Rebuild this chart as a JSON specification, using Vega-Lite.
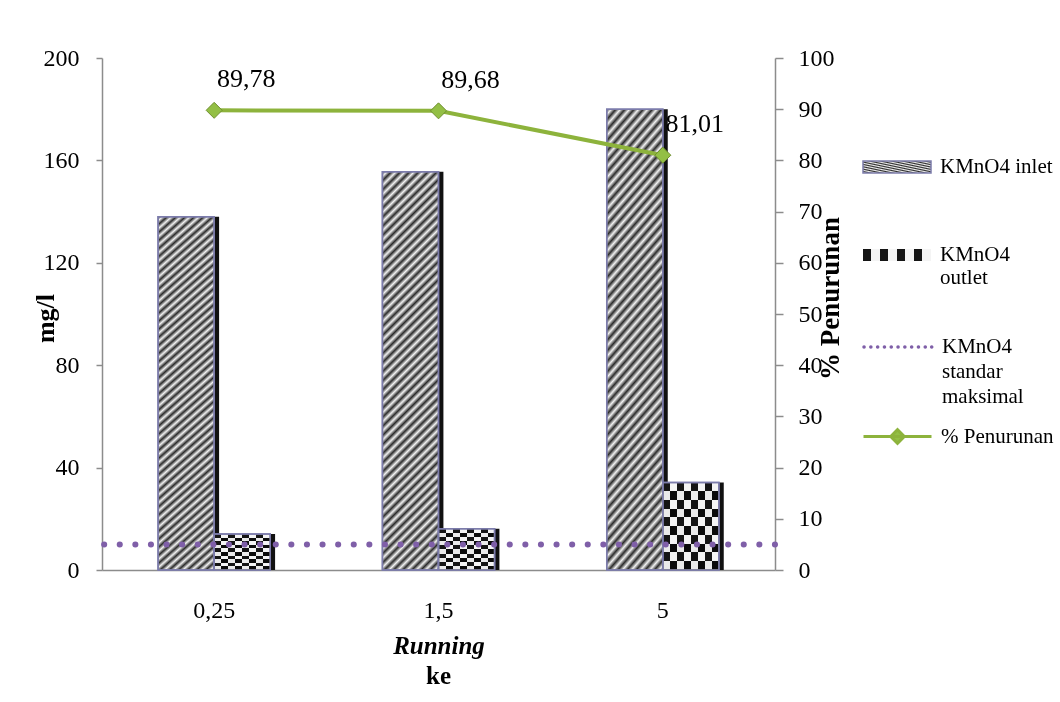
{
  "$schema": "https://vega.github.io/schema/vega-lite/v6.json",
  "width": 673,
  "height": 512,
  "autosize": {"type": "none"},
  "padding": {"left": 102, "top": 58, "right": 285, "bottom": 132},
  "background": "white",
  "config": {
    "font": "Liberation Serif",
    "view": {"stroke": null},
    "locale": {"number": {"decimal": ",", "thousands": ".", "grouping": [3], "currency": ["", ""]}},
    "axis": {"labelFont": "Liberation Serif", "titleFont": "Liberation Serif", "labelColor": "#000", "titleColor": "#000", "domainColor": "#8c8c8c", "tickColor": "#8c8c8c", "domainWidth": 1.5, "tickWidth": 1.5, "grid": false},
    "legend": {"labelFont": "Liberation Serif", "labelFontSize": 21, "labelColor": "#000", "labelLimit": 0}
  },
  "datasets": {
    "bars": [
      {"run": "0,25", "series": "KMnO4 inlet", "value": 138},
      {"run": "0,25", "series": "KMnO4 outlet", "value": 14.1},
      {"run": "1,5", "series": "KMnO4 inlet", "value": 155.6},
      {"run": "1,5", "series": "KMnO4 outlet", "value": 16.1},
      {"run": "5", "series": "KMnO4 inlet", "value": 180},
      {"run": "5", "series": "KMnO4 outlet", "value": 34.2}
    ],
    "pct": [
      {"run": "0,25", "series": "% Penurunan", "pct": 89.78},
      {"run": "1,5", "series": "% Penurunan", "pct": 89.68},
      {"run": "5", "series": "% Penurunan", "pct": 81.01}
    ],
    "std": [
      {"label": "KMnO4 standar maksimal", "value": 10}
    ]
  },
  "title": {"text": "ke", "orient": "bottom", "fontSize": 25, "fontWeight": "bold", "font": "Liberation Serif", "color": "#000", "anchor": "middle", "offset": 6},
  "layer": [
    {
      "data": {"name": "bars"},
      "resolve": {"scale": {"xOffset": "independent"}, "axis": {}, "legend": {}},
      "layer": [
        {
          "mark": {"type": "bar", "color": "#111"},
          "encoding": {
            "x": {"field": "run", "type": "nominal", "sort": ["0,25", "1,5", "5"], "scale": {"paddingInner": 0.5, "paddingOuter": 0.25},
              "axis": {"title": "Running", "titleFontStyle": "italic", "titleFontWeight": "bold", "titleFontSize": 25, "titleY": 75, "titleBaseline": "middle", "labelFontSize": 24, "labelPadding": 28, "ticks": false, "labelAngle": 0}},
            "xOffset": {"field": "series", "type": "nominal", "scale": {"domain": ["KMnO4 inlet", "KMnO4 outlet"], "range": [5, 117], "paddingInner": 0, "paddingOuter": 0}},
            "y": {"field": "value", "type": "quantitative", "scale": {"domain": [0, 200], "nice": false},
              "axis": {"title": "mg/l", "titleFontSize": 26, "titleFontWeight": "bold", "titleX": -57, "titleY": 260, "titleAngle": 270, "titleAlign": "center", "titleBaseline": "middle", "values": [0, 40, 80, 120, 160, 200], "labelFontSize": 24, "labelPadding": 17, "tickSize": 6}}
          }
        },
        {
          "transform": [{"filter": "datum.series === 'KMnO4 inlet'"}],
          "mark": {"type": "bar", "strokeWidth": 1.5, "fill": {"gradient": "linear", "x1": 0, "y1": 0, "x2": 0.157, "y2": 1.12, "stops": [
            {"offset": 0, "color": "#2b2b2b"}, {"offset": 0.01, "color": "#f2f2f2"}, {"offset": 0.02, "color": "#2b2b2b"}, {"offset": 0.03, "color": "#f2f2f2"}, {"offset": 0.04, "color": "#2b2b2b"}, {"offset": 0.05, "color": "#f2f2f2"}, {"offset": 0.06, "color": "#2b2b2b"}, {"offset": 0.07, "color": "#f2f2f2"}, {"offset": 0.08, "color": "#2b2b2b"}, {"offset": 0.09, "color": "#f2f2f2"},
            {"offset": 0.10, "color": "#2b2b2b"}, {"offset": 0.11, "color": "#f2f2f2"}, {"offset": 0.12, "color": "#2b2b2b"}, {"offset": 0.13, "color": "#f2f2f2"}, {"offset": 0.14, "color": "#2b2b2b"}, {"offset": 0.15, "color": "#f2f2f2"}, {"offset": 0.16, "color": "#2b2b2b"}, {"offset": 0.17, "color": "#f2f2f2"}, {"offset": 0.18, "color": "#2b2b2b"}, {"offset": 0.19, "color": "#f2f2f2"},
            {"offset": 0.20, "color": "#2b2b2b"}, {"offset": 0.21, "color": "#f2f2f2"}, {"offset": 0.22, "color": "#2b2b2b"}, {"offset": 0.23, "color": "#f2f2f2"}, {"offset": 0.24, "color": "#2b2b2b"}, {"offset": 0.25, "color": "#f2f2f2"}, {"offset": 0.26, "color": "#2b2b2b"}, {"offset": 0.27, "color": "#f2f2f2"}, {"offset": 0.28, "color": "#2b2b2b"}, {"offset": 0.29, "color": "#f2f2f2"},
            {"offset": 0.30, "color": "#2b2b2b"}, {"offset": 0.31, "color": "#f2f2f2"}, {"offset": 0.32, "color": "#2b2b2b"}, {"offset": 0.33, "color": "#f2f2f2"}, {"offset": 0.34, "color": "#2b2b2b"}, {"offset": 0.35, "color": "#f2f2f2"}, {"offset": 0.36, "color": "#2b2b2b"}, {"offset": 0.37, "color": "#f2f2f2"}, {"offset": 0.38, "color": "#2b2b2b"}, {"offset": 0.39, "color": "#f2f2f2"},
            {"offset": 0.40, "color": "#2b2b2b"}, {"offset": 0.41, "color": "#f2f2f2"}, {"offset": 0.42, "color": "#2b2b2b"}, {"offset": 0.43, "color": "#f2f2f2"}, {"offset": 0.44, "color": "#2b2b2b"}, {"offset": 0.45, "color": "#f2f2f2"}, {"offset": 0.46, "color": "#2b2b2b"}, {"offset": 0.47, "color": "#f2f2f2"}, {"offset": 0.48, "color": "#2b2b2b"}, {"offset": 0.49, "color": "#f2f2f2"},
            {"offset": 0.50, "color": "#2b2b2b"}, {"offset": 0.51, "color": "#f2f2f2"}, {"offset": 0.52, "color": "#2b2b2b"}, {"offset": 0.53, "color": "#f2f2f2"}, {"offset": 0.54, "color": "#2b2b2b"}, {"offset": 0.55, "color": "#f2f2f2"}, {"offset": 0.56, "color": "#2b2b2b"}, {"offset": 0.57, "color": "#f2f2f2"}, {"offset": 0.58, "color": "#2b2b2b"}, {"offset": 0.59, "color": "#f2f2f2"},
            {"offset": 0.60, "color": "#2b2b2b"}, {"offset": 0.61, "color": "#f2f2f2"}, {"offset": 0.62, "color": "#2b2b2b"}, {"offset": 0.63, "color": "#f2f2f2"}, {"offset": 0.64, "color": "#2b2b2b"}, {"offset": 0.65, "color": "#f2f2f2"}, {"offset": 0.66, "color": "#2b2b2b"}, {"offset": 0.67, "color": "#f2f2f2"}, {"offset": 0.68, "color": "#2b2b2b"}, {"offset": 0.69, "color": "#f2f2f2"},
            {"offset": 0.70, "color": "#2b2b2b"}, {"offset": 0.71, "color": "#f2f2f2"}, {"offset": 0.72, "color": "#2b2b2b"}, {"offset": 0.73, "color": "#f2f2f2"}, {"offset": 0.74, "color": "#2b2b2b"}, {"offset": 0.75, "color": "#f2f2f2"}, {"offset": 0.76, "color": "#2b2b2b"}, {"offset": 0.77, "color": "#f2f2f2"}, {"offset": 0.78, "color": "#2b2b2b"}, {"offset": 0.79, "color": "#f2f2f2"},
            {"offset": 0.80, "color": "#2b2b2b"}, {"offset": 0.81, "color": "#f2f2f2"}, {"offset": 0.82, "color": "#2b2b2b"}, {"offset": 0.83, "color": "#f2f2f2"}, {"offset": 0.84, "color": "#2b2b2b"}, {"offset": 0.85, "color": "#f2f2f2"}, {"offset": 0.86, "color": "#2b2b2b"}, {"offset": 0.87, "color": "#f2f2f2"}, {"offset": 0.88, "color": "#2b2b2b"}, {"offset": 0.89, "color": "#f2f2f2"},
            {"offset": 0.90, "color": "#2b2b2b"}, {"offset": 0.91, "color": "#f2f2f2"}, {"offset": 0.92, "color": "#2b2b2b"}, {"offset": 0.93, "color": "#f2f2f2"}, {"offset": 0.94, "color": "#2b2b2b"}, {"offset": 0.95, "color": "#f2f2f2"}, {"offset": 0.96, "color": "#2b2b2b"}, {"offset": 0.97, "color": "#f2f2f2"}, {"offset": 0.98, "color": "#2b2b2b"}, {"offset": 0.99, "color": "#f2f2f2"},
            {"offset": 1, "color": "#2b2b2b"}
          ]}},
          "encoding": {
            "x": {"field": "run", "type": "nominal", "sort": ["0,25", "1,5", "5"]},
            "xOffset": {"field": "series", "type": "nominal", "scale": {"domain": ["KMnO4 inlet", "KMnO4 outlet"]}},
            "y": {"field": "value", "type": "quantitative"},
            "stroke": {"field": "series", "type": "nominal", "scale": {"range": ["#7c7cab"]},
              "legend": {"orient": "none", "legendX": 760, "legendY": 74, "title": null, "symbolType": "M-1,-0.18H1V0.18H-1Z", "symbolSize": 4624, "symbolStrokeWidth": 1.5, "labelOffset": 8}}
          }
        },
        {
          "transform": [{"filter": "datum.series === 'KMnO4 outlet'"}],
          "mark": {"type": "bar", "stroke": "#7c7cab", "strokeWidth": 1.5, "fill": {"gradient": "linear", "x1": 0, "y1": 0, "x2": 1, "y2": 0, "stops": [
            {"offset": 0, "color": "#151515"}, {"offset": 0.125, "color": "#151515"}, {"offset": 0.125, "color": "#f4f4f4"}, {"offset": 0.25, "color": "#f4f4f4"},
            {"offset": 0.25, "color": "#151515"}, {"offset": 0.375, "color": "#151515"}, {"offset": 0.375, "color": "#f4f4f4"}, {"offset": 0.5, "color": "#f4f4f4"},
            {"offset": 0.5, "color": "#151515"}, {"offset": 0.625, "color": "#151515"}, {"offset": 0.625, "color": "#f4f4f4"}, {"offset": 0.75, "color": "#f4f4f4"},
            {"offset": 0.75, "color": "#151515"}, {"offset": 0.875, "color": "#151515"}, {"offset": 0.875, "color": "#f4f4f4"}, {"offset": 1, "color": "#f4f4f4"}
          ]}},
          "encoding": {
            "x": {"field": "run", "type": "nominal", "sort": ["0,25", "1,5", "5"]},
            "xOffset": {"field": "series", "type": "nominal", "scale": {"domain": ["KMnO4 inlet", "KMnO4 outlet"]}},
            "y": {"field": "value", "type": "quantitative"},
            "opacity": {"field": "series", "type": "ordinal", "scale": {"range": [1, 1]},
              "legend": {"orient": "none", "legendX": 760, "legendY": 162, "title": null, "symbolType": "M-1,-0.18H1V0.18H-1Z", "symbolSize": 4624, "symbolStrokeColor": "#7c7cab", "symbolStrokeWidth": 1.5, "labelOffset": 8,
                "labelExpr": "['KMnO4', 'outlet']",
                "encode": {
                  "symbols": {"update": {"stroke": {"value": "#7c7cab"}, "strokeWidth": {"value": 1.5}}},
                  "labels": {"update": {"lineHeight": {"value": 25}}}
                }}}
          }
        },
        {
          "transform": [{"filter": "datum.series === 'KMnO4 outlet'"}],
          "mark": {"type": "bar", "blend": "difference", "fill": {"gradient": "linear", "x1": 0, "y1": 0, "x2": 0, "y2": 1, "stops": [
            {"offset": 0, "color": "#000"}, {"offset": 0.1, "color": "#000"}, {"offset": 0.1, "color": "#fff"}, {"offset": 0.2, "color": "#fff"},
            {"offset": 0.2, "color": "#000"}, {"offset": 0.3, "color": "#000"}, {"offset": 0.3, "color": "#fff"}, {"offset": 0.4, "color": "#fff"},
            {"offset": 0.4, "color": "#000"}, {"offset": 0.5, "color": "#000"}, {"offset": 0.5, "color": "#fff"}, {"offset": 0.6, "color": "#fff"},
            {"offset": 0.6, "color": "#000"}, {"offset": 0.7, "color": "#000"}, {"offset": 0.7, "color": "#fff"}, {"offset": 0.8, "color": "#fff"},
            {"offset": 0.8, "color": "#000"}, {"offset": 0.9, "color": "#000"}, {"offset": 0.9, "color": "#fff"}, {"offset": 1, "color": "#fff"}
          ]}},
          "encoding": {
            "x": {"field": "run", "type": "nominal", "sort": ["0,25", "1,5", "5"]},
            "xOffset": {"field": "series", "type": "nominal", "scale": {"domain": ["KMnO4 inlet", "KMnO4 outlet"]}},
            "y": {"field": "value", "type": "quantitative"}
          }
        },
        {
          "mark": {"type": "bar", "fillOpacity": 0, "stroke": "#7c7cab", "strokeWidth": 1.5},
          "encoding": {
            "x": {"field": "run", "type": "nominal", "sort": ["0,25", "1,5", "5"]},
            "xOffset": {"field": "series", "type": "nominal", "scale": {"domain": ["KMnO4 inlet", "KMnO4 outlet"]}},
            "y": {"field": "value", "type": "quantitative"}
          }
        },
        {
          "data": {"name": "std"},
          "mark": {"type": "rule", "strokeWidth": 6, "strokeCap": "round", "color": "#7f5fa8"},
          "encoding": {
            "y": {"field": "value", "type": "quantitative"},
            "strokeDash": {"field": "label", "type": "nominal", "scale": {"range": [[0.1, 15.5]]},
              "legend": {"orient": "none", "legendX": 760, "legendY": 253, "title": null,
                "symbolType": "M-1,0h0.01M-0.8,0h0.01M-0.6,0h0.01M-0.4,0h0.01M-0.2,0h0.01M0,0h0.01M0.2,0h0.01M0.4,0h0.01M0.6,0h0.01M0.8,0h0.01M0.99,0h0.01",
                "symbolSize": 4624, "symbolStrokeWidth": 3.5, "symbolStrokeColor": "#7f5fa8", "labelOffset": 8,
                "labelExpr": "['KMnO4', 'standar', 'maksimal']",
                "encode": {
                  "symbols": {"update": {"strokeCap": {"value": "round"}, "stroke": {"value": "#7f5fa8"}, "strokeWidth": {"value": 3.5}}},
                  "labels": {"update": {"lineHeight": {"value": 25}}}
                }}}
          }
        }
      ]
    },
    {
      "data": {"name": "pct"},
      "layer": [
        {
          "mark": {"type": "line", "strokeWidth": 4},
          "encoding": {
            "x": {"field": "run", "type": "nominal", "sort": ["0,25", "1,5", "5"]},
            "y": {"field": "pct", "type": "quantitative", "scale": {"domain": [0, 100], "nice": false},
              "axis": {"orient": "right", "title": "% Penurunan", "titleFontSize": 27, "titleFontWeight": "bold", "titleX": 55, "titleY": 240, "titleAngle": 270, "titleAlign": "center", "titleBaseline": "middle", "values": [0, 10, 20, 30, 40, 50, 60, 70, 80, 90, 100], "labelFontSize": 24, "labelPadding": 15, "tickSize": 8}},
            "color": {"field": "series", "type": "nominal", "scale": {"range": ["#8db33c"]},
              "legend": {"orient": "none", "legendX": 760, "legendY": 343, "title": null, "symbolType": "M-1,0H1M-0.2,0L0,-0.2L0.2,0L0,0.2Z", "symbolSize": 4624, "symbolStrokeWidth": 3, "labelOffset": 8,
                "encode": {"symbols": {"update": {"fill": {"value": "#93bf45"}, "strokeWidth": {"value": 3}, "opacity": {"value": 1}}}}}}
          }
        },
        {
          "mark": {"type": "point", "shape": "diamond", "filled": true, "size": 256, "fill": "#93bf45", "stroke": "#6f8f2f", "strokeWidth": 1, "opacity": 1},
          "encoding": {
            "x": {"field": "run", "type": "nominal", "sort": ["0,25", "1,5", "5"]},
            "y": {"field": "pct", "type": "quantitative"}
          }
        },
        {
          "mark": {"type": "text", "fontSize": 26, "dx": 32, "dy": -31, "font": "Liberation Serif", "color": "#000", "align": "center", "baseline": "middle"},
          "encoding": {
            "x": {"field": "run", "type": "nominal", "sort": ["0,25", "1,5", "5"]},
            "y": {"field": "pct", "type": "quantitative"},
            "text": {"field": "pct", "type": "quantitative", "format": ".2f"}
          }
        }
      ]
    }
  ],
  "resolve": {"scale": {"y": "independent"}}
}
